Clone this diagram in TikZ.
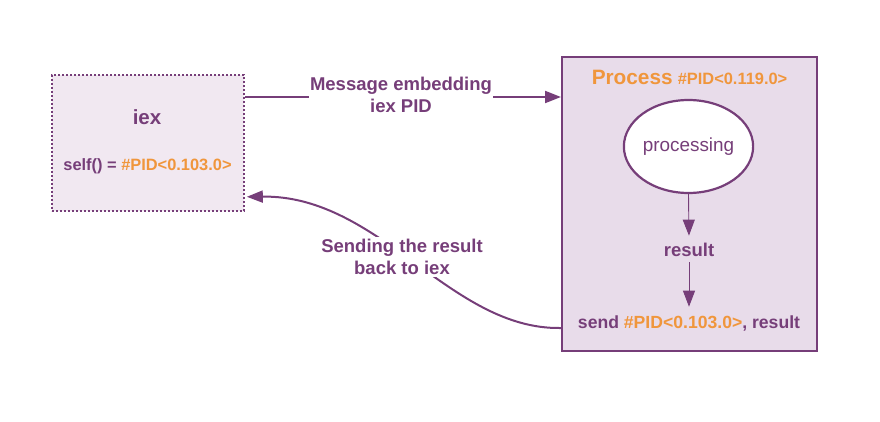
\documentclass[tikz,border=0pt]{standalone}
\usepackage{fontspec}
\setmainfont{Liberation Sans}
\usetikzlibrary{arrows.meta,shapes.geometric,calc}
\definecolor{pur}{RGB}{118,62,121}
\definecolor{org}{RGB}{240,150,60}
\definecolor{iexfill}{RGB}{241,232,241}
\definecolor{procfill}{RGB}{232,220,234}
\tikzset{
  lbl/.style={font=\bfseries\fontsize{18.5}{21.5}\selectfont, text=pur, align=center},
  tip/.style={-{Triangle[length=16pt,width=12pt]}},
  bigarrow/.style={tip, draw=pur, line width=2pt},
  smallarrow/.style={tip, draw=pur, line width=0.9pt},
}
\begin{document}
\begin{tikzpicture}[x=1pt,y=-1pt]
\useasboundingbox (0,0) rectangle (880,422);
% boxes
\node[draw=pur, fill=iexfill, line width=1.8pt, dash pattern=on 1.8pt off 2.2pt,
      minimum width=192pt, minimum height=136pt, anchor=north west, inner sep=0pt] (iex) at (51,74) {};
\node[draw=pur, fill=procfill, line width=2pt,
      minimum width=255pt, minimum height=294pt, anchor=north west, inner sep=0pt] (proc) at (561,56) {};
% iex texts
\node[lbl, font=\bfseries\fontsize{20.5}{24}\selectfont] (iext) at (147,117) {iex};
\node[lbl, font=\bfseries\fontsize{16.4}{19}\selectfont] (self) at (147.5,166) {self() = \textcolor{org}{\#PID<0.103.0>}};
% process texts
\node[lbl, text=org] (ptitle) at (689.5,77) {{\fontsize{20.8}{24}\selectfont Process} {\fontsize{16.4}{19}\selectfont\#PID<0.119.0>}};
\node[draw=pur, fill=white, line width=2.2pt, ellipse, minimum width=109pt, minimum height=93pt, inner sep=0pt,
      text=pur, font=\fontsize{18.9}{22}\selectfont] (ell) at (688.5,146.5) {processing};
\node[lbl] (res) at (689,250) {result};
\node[lbl, font=\bfseries\fontsize{17.6}{21}\selectfont] (send) at (689,323) {send \textcolor{org}{\#PID<0.103.0>}, result};
% inner arrows
\draw[smallarrow, shorten >=4pt] (ell.south) -- (res.north);
\draw[smallarrow, shorten <=2pt, shorten >=5pt] (res.south) -- (send.north);
% connectors between boxes
\coordinate (a1) at ($(iex.north east)+(0,23)$);
\draw[bigarrow] (a1) -- (proc.west |- a1);
\coordinate (c0) at ($(proc.south west)+(0,-24)$);
\coordinate (c1) at ($(iex.south east)+(2,-15)$);
\draw[bigarrow] (c0) .. controls (450,330) and (380,195) .. (c1);
% labels over connectors
\node[lbl, fill=white, inner xsep=1pt, inner ysep=2pt] (msg) at (401,95) {Message embedding\\iex PID};
\node[lbl, fill=white, inner xsep=2pt, inner ysep=2pt] (back) at (402,257) {Sending the result\\back to iex};
\end{tikzpicture}
\end{document}
